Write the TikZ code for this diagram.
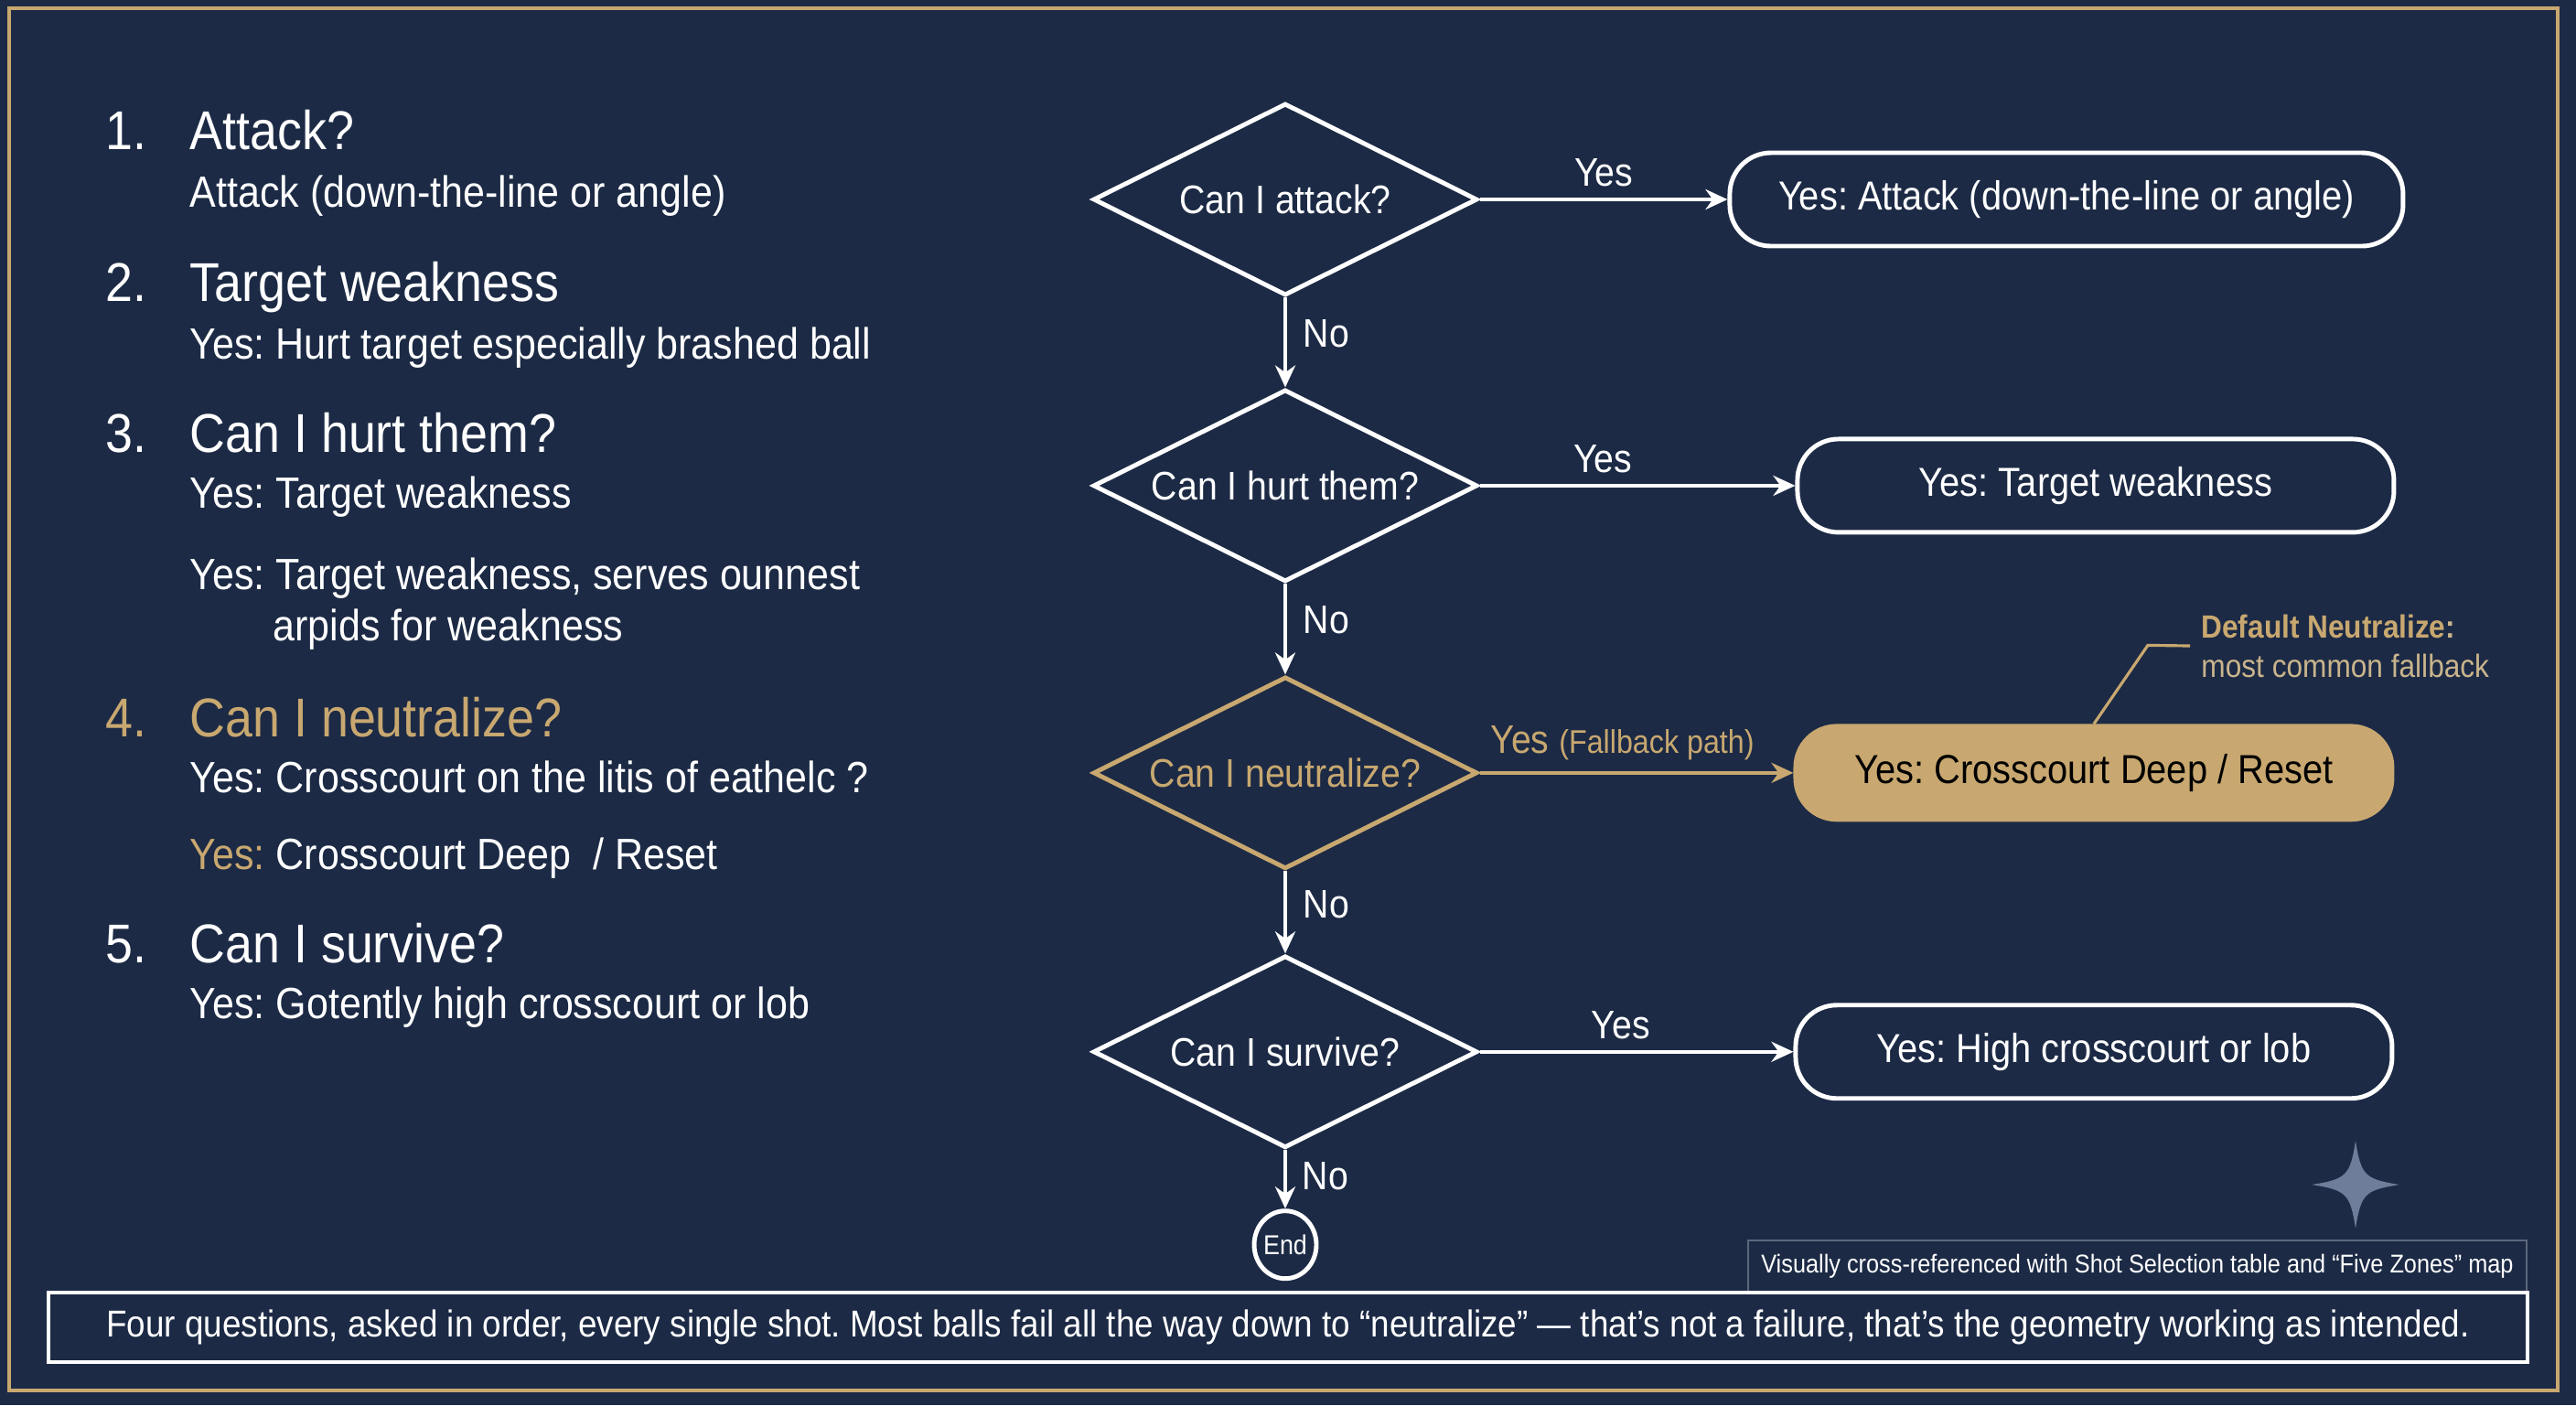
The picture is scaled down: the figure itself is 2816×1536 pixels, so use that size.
\documentclass[tikz,border=0pt]{standalone}
\usepackage{fontspec}
\setmainfont{Liberation Sans}[FakeStretch=0.9]
\usepackage{xcolor}
\usepackage{tikz}
\usetikzlibrary{shapes.geometric, arrows.meta, positioning, calc}

\definecolor{navy}{HTML}{1C2A45}
\definecolor{gold}{HTML}{C8A870}
\definecolor{tan}{HTML}{C9B48C}
\definecolor{slate}{HTML}{6E7D99}
\definecolor{rulegray}{HTML}{5C677D}

\frenchspacing
\begin{document}
\begin{tikzpicture}[
    x=0.1mm, y=-0.1mm,
    every node/.style={text=white},
    heading/.style={anchor=base west, inner sep=0, font=\fontsize{17}{20}\selectfont},
    detail/.style={anchor=base west, inner sep=0, font=\fontsize{13.6}{16}\selectfont},
    decision/.style={diamond, aspect=2, draw=white, line width=1.4pt, minimum width=4.2cm, minimum height=2.1cm, inner sep=0, font=\fontsize{12.4}{14}\selectfont},
    outcome/.style={rectangle, draw=white, line width=1.4pt, rounded corners=0.45cm, minimum width=6.52cm, minimum height=1.02cm, font=\fontsize{12.6}{14}\selectfont},
    flowtag/.style={font=\fontsize{12.4}{14}\selectfont},
    arrow/.style={-{Stealth[length=2.4mm, width=2.2mm]}, line width=1.2pt, draw=white}
]

% Background and frame
\fill[navy] (0,0) rectangle (2816,1536);
\useasboundingbox (0,0) rectangle (2816,1536);
\draw[gold, line width=1.1pt] (10,9) rectangle (2796,1520);

% Question list
\node[heading] (n1) at (115,163) {1.};
\node[heading] (h1) at (207,163) {Attack?};
\node[detail] (s1) at (207,226) {Attack (down-the-line or angle)};

\node[heading] (n2) at (115,329) {2.};
\node[heading] (h2) at (207,329) {Target weakness};
\node[detail] (s2) at (207,392) {Yes: Hurt target especially brashed ball};

\node[heading] (n3) at (115,494) {3.};
\node[heading] (h3) at (207,494) {Can I hurt them?};
\node[detail] (s3) at (207,555) {Yes: Target weakness};
\node[detail] (s3b) at (207,644) {Yes: Target weakness, serves ounnest};
\node[detail] (s3c) at (298,700) {arpids for weakness};

\node[heading, text=gold] (n4) at (115,805) {4.};
\node[heading, text=gold] (h4) at (207,805) {Can I neutralize?};
\node[detail] (s4) at (207,866) {Yes: Crosscourt on the litis of eathelc ?};
\node[detail] (s4b) at (207,950) {\textcolor{gold}{Yes:} Crosscourt Deep~~/ Reset};

\node[heading] (n5) at (115,1052) {5.};
\node[heading] (h5) at (207,1052) {Can I survive?};
\node[detail] (s5) at (207,1113) {Yes: Gotently high crosscourt or lob};

% Decisions
\node[decision] (d1) at (1405,218) {Can I attack?};
\node[decision, below=0.98cm of d1] (d2) {Can I hurt them?};
\node[decision, below=0.99cm of d2, draw=gold, text=gold] (d3) {Can I neutralize?};
\node[decision, below=0.9cm of d3] (d4) {Can I survive?};
\node[ellipse, draw=white, line width=1.4pt, minimum width=0.68cm, minimum height=0.74cm, inner sep=0, font=\fontsize{8.5}{10}\selectfont, below=0.64cm of d4] (fin) {End};

% Outcomes
\node[outcome, right=2.71cm of d1, minimum width=7.36cm] (b1) {Yes: Attack (down-the-line or angle)};
\node[outcome, right=3.45cm of d2] (b2) {Yes: Target weakness};
\node[outcome, right=3.43cm of d3, draw=gold, fill=gold, text=black] (b3) {Yes: Crosscourt Deep / Reset};
\node[outcome, right=3.43cm of d4] (b4) {Yes: High crosscourt or lob};

% Note on the fallback
\node[anchor=west, align=left, text=tan, font=\fontsize{10}{12.2}\selectfont] (note) at (2394,706) {\textbf{\textcolor{gold}{Default Neutralize}:}\\most common fallback};
\draw[gold, line width=0.9pt] (b3.north) -- ++(59,-86) -- (note.west);

% Arrows
\draw[arrow] (d1) -- node[flowtag, above, pos=0.5] {Yes} (b1);
\draw[arrow] (d2) -- node[flowtag, above, pos=0.39] {Yes} (b2);
\draw[arrow, draw=gold] (d3) -- node[flowtag, above, pos=0.455, text=gold] {Yes {\fontsize{10.2}{12}\selectfont(Fallback path)}} (b3);
\draw[arrow] (d4) -- node[flowtag, above, pos=0.45] {Yes} (b4);

\draw[arrow] (d1) -- node[flowtag, right, pos=0.4, xshift=0.6mm] {No} (d2);
\draw[arrow] (d2) -- node[flowtag, right, pos=0.4, xshift=0.6mm] {No} (d3);
\draw[arrow] (d3) -- node[flowtag, right, pos=0.4, xshift=0.6mm] {No} (d4);
\draw[arrow] (d4) -- node[flowtag, right, pos=0.45, xshift=0.5mm] {No} (fin);

% Sparkle
\begin{scope}[shift={(2575,1295)}]
\fill[slate] (0,-48) .. controls (6,-10) and (10,-6) .. (48,0) .. controls (10,6) and (6,10) .. (0,48) .. controls (-6,10) and (-10,6) .. (-48,0) .. controls (-10,-6) and (-6,-10) .. (0,-48) -- cycle;
\end{scope}

% Footer
\node[draw=rulegray, line width=0.6pt, minimum width=8.51cm, minimum height=0.56cm, anchor=south east, inner sep=0, font=\fontsize{8}{10}\selectfont] (xref) at (2763,1413) {Visually cross-referenced with Shot Selection table and “Five Zones” map};
\node[draw=white, line width=1.2pt, minimum width=27.1cm, minimum height=0.76cm, inner sep=0, font=\fontsize{11.65}{14}\selectfont] (summary) at (1408,1451) {Four questions, asked in order, every single shot. Most balls fail all the way down to “neutralize” — that’s not a failure, that’s the geometry working as intended.};

\end{tikzpicture}
\end{document}
